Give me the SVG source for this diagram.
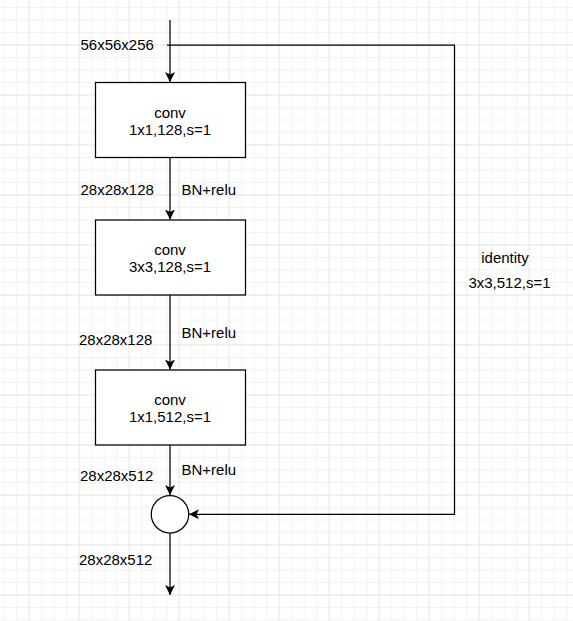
<svg xmlns="http://www.w3.org/2000/svg" width="573" height="621" viewBox="0 0 573 621">
<style>
.t{font-family:"Liberation Sans",Arial,sans-serif;font-size:15px;fill:#000}
.c{text-anchor:middle}
.box{fill:#fff;stroke:#000;stroke-width:1.25}
.ln{fill:none;stroke:#000;stroke-width:1.25}
</style>
<defs>
<pattern id="grid" patternUnits="userSpaceOnUse" x="29.25" y="45" width="50" height="50">
<rect x="0" y="0" width="50" height="50" fill="#fff"/>
<g fill="#f2f2f2">
<rect x="12" y="0" width="1" height="50"/><rect x="24.5" y="0" width="1" height="50"/><rect x="37" y="0" width="1" height="50"/>
<rect x="0" y="12" width="50" height="1"/><rect x="0" y="24.5" width="50" height="1"/><rect x="0" y="37" width="50" height="1"/>
</g>
<g fill="#e3e3e3">
<rect x="-0.5" y="0" width="1" height="50"/><rect x="49.5" y="0" width="1" height="50"/>
<rect x="0" y="-0.5" width="50" height="1"/><rect x="0" y="49.5" width="50" height="1"/>
</g>
</pattern>
<marker id="arr" markerUnits="userSpaceOnUse" viewBox="0 0 10 10" refX="10" refY="5" markerWidth="10" markerHeight="10" orient="auto">
<path d="M0,0 L10,5 L0,10 L2.5,5 Z" fill="#000"/>
</marker>
</defs>
<rect width="573" height="621" fill="url(#grid)"/>
<g id="connectors">
<path class="ln" d="M170,20 V82" marker-end="url(#arr)"/>
<path class="ln" d="M167,45 H454.5 V514.25 H189" marker-end="url(#arr)"/>
<path class="ln" d="M170,157.5 V219.5" marker-end="url(#arr)"/>
<path class="ln" d="M170,295 V369.5" marker-end="url(#arr)"/>
<path class="ln" d="M170,445 V495" marker-end="url(#arr)"/>
<path class="ln" d="M170,533 V595" marker-end="url(#arr)"/>
</g>
<g id="conv1">
<rect class="box" x="95.5" y="82.5" width="150" height="75"/>
<text class="t c" x="170" y="117.5">conv</text>
<text class="t c" x="170" y="135">1x1,128,s=1</text>
</g>
<g id="conv2">
<rect class="box" x="95.5" y="220" width="150" height="75"/>
<text class="t c" x="170" y="255">conv</text>
<text class="t c" x="170" y="272">3x3,128,s=1</text>
</g>
<g id="conv3">
<rect class="box" x="95.5" y="370" width="150" height="75"/>
<text class="t c" x="170" y="405">conv</text>
<text class="t c" x="170" y="422">1x1,512,s=1</text>
</g>
<g id="add">
<circle class="box" cx="170" cy="514.25" r="18.75"/>
</g>
<g id="labels">
<text class="t" x="80.5" y="50">56x56x256</text>
<text class="t" x="80.5" y="195">28x28x128</text>
<text class="t" x="181.5" y="195">BN+relu</text>
<text class="t" x="79" y="345">28x28x128</text>
<text class="t" x="181.5" y="337.5">BN+relu</text>
<text class="t" x="80" y="481">28x28x512</text>
<text class="t" x="181.5" y="474.5">BN+relu</text>
<text class="t" x="79" y="564.5">28x28x512</text>
<text class="t c" x="505" y="263">identity</text>
<text class="t c" x="509.5" y="287.5">3x3,512,s=1</text>
</g>
</svg>
